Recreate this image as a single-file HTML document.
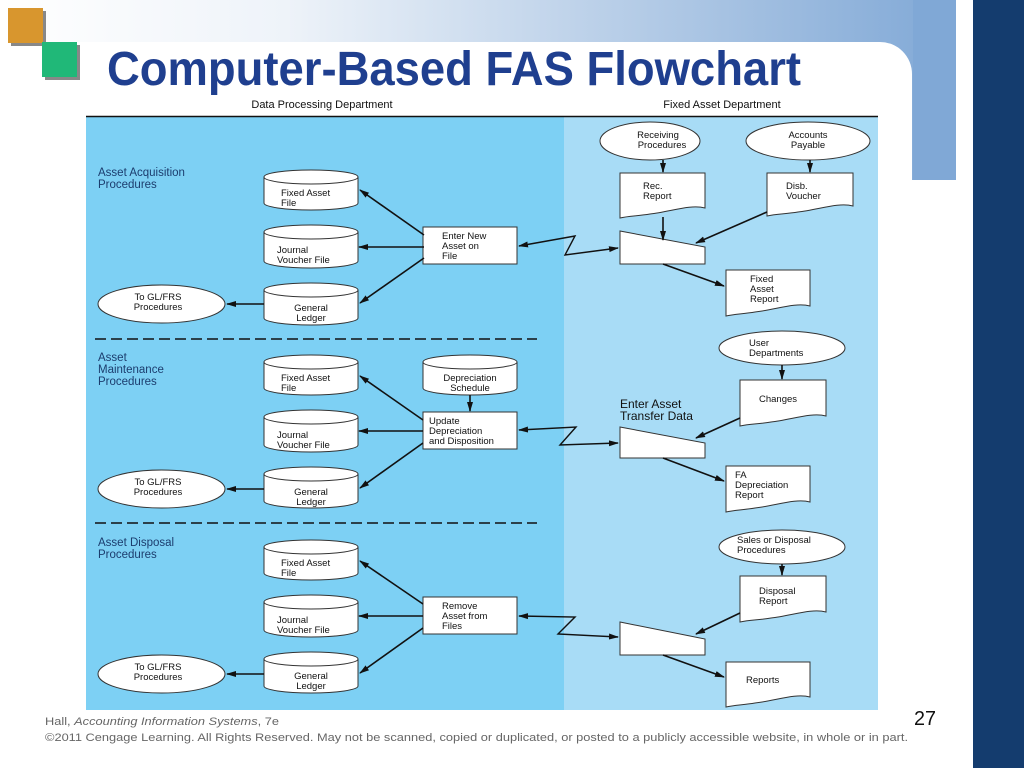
<!DOCTYPE html>
<html><head><meta charset="utf-8"><style>
html,body{margin:0;padding:0;background:#fff;}
svg{display:block;}
text{font-family:"Liberation Sans",Arial,sans-serif;}
.n{font-size:9.5px;fill:#111;}
.s{font-size:11.5px;fill:#1c3d6e;}
.sh{fill:#fff;stroke:#333;stroke-width:1;}
.ln{stroke:#111;stroke-width:1.6;fill:none;marker-end:url(#ah);}
.zz{stroke:#111;stroke-width:1.4;fill:none;marker-end:url(#ah);marker-start:url(#as);}
</style></head><body>
<svg width="1024" height="768" viewBox="0 0 1024 768" xmlns="http://www.w3.org/2000/svg">
<defs>
<linearGradient id="g" x1="0" x2="1" y1="0" y2="0">
<stop offset="0" stop-color="#ffffff"/><stop offset="0.3" stop-color="#eef3f9"/><stop offset="1" stop-color="#80a8d6"/>
</linearGradient>
<marker id="ah" markerWidth="10" markerHeight="8" refX="9" refY="4" orient="auto" markerUnits="userSpaceOnUse"><path d="M0,1 L10,4 L0,7 Z" fill="#111"/></marker>
<marker id="as" markerWidth="10" markerHeight="8" refX="1" refY="4" orient="auto" markerUnits="userSpaceOnUse"><path d="M10,1 L0,4 L10,7 Z" fill="#111"/></marker>
</defs>
<rect x="0" y="0" width="956" height="180" fill="url(#g)"/>
<rect x="913" y="0" width="43" height="180" fill="#80a8d6"/>
<path d="M0,42 H880 A32,32 0 0 1 912,74 V768 H0 Z" fill="#fff"/>
<rect x="973" y="0" width="51" height="768" fill="#143c6e"/>
<rect x="11" y="11" width="35" height="35" fill="#888"/>
<rect x="8" y="8" width="35" height="35" fill="#d8962e"/>
<rect x="45" y="45" width="35" height="35" fill="#888"/>
<rect x="42" y="42" width="35" height="35" fill="#20b878"/>
<text x="107" y="85" font-size="48" font-weight="bold" fill="#1f3f8f" textLength="694" lengthAdjust="spacingAndGlyphs">Computer-Based FAS Flowchart</text>
<text x="322" y="108" font-size="11" text-anchor="middle" fill="#111">Data Processing Department</text>
<text x="722" y="108" font-size="11" text-anchor="middle" fill="#111">Fixed Asset Department</text>
<rect x="86" y="116" width="478" height="594" fill="#7dd0f4"/>
<rect x="564" y="116" width="314" height="594" fill="#a8dcf6"/>
<line x1="86" y1="116.5" x2="878" y2="116.5" stroke="#111" stroke-width="1.5"/>
<line x1="95" y1="339" x2="537" y2="339" stroke="#111" stroke-width="1.5" stroke-dasharray="11,5"/>
<line x1="95" y1="523" x2="537" y2="523" stroke="#111" stroke-width="1.5" stroke-dasharray="11,5"/>

<text class="s"><tspan x="98" y="176">Asset Acquisition</tspan><tspan x="98" y="188">Procedures</tspan></text>
<text class="s"><tspan x="98" y="361">Asset</tspan><tspan x="98" y="373">Maintenance</tspan><tspan x="98" y="385">Procedures</tspan></text>
<text class="s"><tspan x="98" y="546">Asset Disposal</tspan><tspan x="98" y="558">Procedures</tspan></text>

<g class="sh">
<path d="M264,177 A47,7 0 0 1 358,177 V203 A47,7 0 0 1 264,203 Z"/><path d="M264,177 A47,7 0 0 0 358,177" fill="none"/>
<path d="M264,232 A47,7 0 0 1 358,232 V261 A47,7 0 0 1 264,261 Z"/><path d="M264,232 A47,7 0 0 0 358,232" fill="none"/>
<path d="M264,290 A47,7 0 0 1 358,290 V318 A47,7 0 0 1 264,318 Z"/><path d="M264,290 A47,7 0 0 0 358,290" fill="none"/>
<path d="M264,362 A47,7 0 0 1 358,362 V388 A47,7 0 0 1 264,388 Z"/><path d="M264,362 A47,7 0 0 0 358,362" fill="none"/>
<path d="M264,417 A47,7 0 0 1 358,417 V445 A47,7 0 0 1 264,445 Z"/><path d="M264,417 A47,7 0 0 0 358,417" fill="none"/>
<path d="M264,474 A47,7 0 0 1 358,474 V501 A47,7 0 0 1 264,501 Z"/><path d="M264,474 A47,7 0 0 0 358,474" fill="none"/>
<path d="M423,362 A47,7 0 0 1 517,362 V388 A47,7 0 0 1 423,388 Z"/><path d="M423,362 A47,7 0 0 0 517,362" fill="none"/>
<path d="M264,547 A47,7 0 0 1 358,547 V573 A47,7 0 0 1 264,573 Z"/><path d="M264,547 A47,7 0 0 0 358,547" fill="none"/>
<path d="M264,602 A47,7 0 0 1 358,602 V630 A47,7 0 0 1 264,630 Z"/><path d="M264,602 A47,7 0 0 0 358,602" fill="none"/>
<path d="M264,659 A47,7 0 0 1 358,659 V686 A47,7 0 0 1 264,686 Z"/><path d="M264,659 A47,7 0 0 0 358,659" fill="none"/>
<ellipse cx="161.5" cy="304" rx="63.5" ry="19"/>
<ellipse cx="161.5" cy="489" rx="63.5" ry="19"/>
<ellipse cx="161.5" cy="674" rx="63.5" ry="19"/>
<ellipse cx="650" cy="141" rx="50" ry="19"/>
<ellipse cx="808" cy="141" rx="62" ry="19"/>
<ellipse cx="782" cy="348" rx="63" ry="17"/>
<ellipse cx="782" cy="547" rx="63" ry="17"/>
<rect x="423" y="227" width="94" height="37"/>
<rect x="423" y="412" width="94" height="37"/>
<rect x="423" y="597" width="94" height="37"/>
<polygon points="620,231 705,247 705,264 620,264"/>
<polygon points="620,427 705,443 705,458 620,458"/>
<polygon points="620,622 705,639 705,655 620,655"/>
<path d="M620,173 H705 V208 C690,204 670,212 650,214 C638,216 628,216 620,218 Z"/>
<path d="M767,173 H853 V206 C838,202 818,210 798,212 C786,214 776,214 767,216 Z"/>
<path d="M726,270 H810 V306 C795,302 775,310 755,312 C743,314 734,314 726,316 Z"/>
<path d="M740,380 H826 V416 C811,412 791,420 771,422 C759,424 749,424 740,426 Z"/>
<path d="M726,466 H810 V502 C795,498 775,506 755,508 C743,510 734,510 726,512 Z"/>
<path d="M740,576 H826 V612 C811,608 791,616 771,618 C759,620 749,620 740,622 Z"/>
<path d="M726,662 H810 V697 C795,693 775,701 755,703 C743,705 734,705 726,707 Z"/>
</g>

<text class="n"><tspan x="281" y="196">Fixed Asset</tspan><tspan x="281" y="206">File</tspan></text>
<text class="n"><tspan x="277" y="253">Journal</tspan><tspan x="277" y="263">Voucher File</tspan></text>
<text class="n" text-anchor="middle"><tspan x="311" y="311">General</tspan><tspan x="311" y="321">Ledger</tspan></text>
<text class="n"><tspan x="281" y="381">Fixed Asset</tspan><tspan x="281" y="391">File</tspan></text>
<text class="n"><tspan x="277" y="438">Journal</tspan><tspan x="277" y="448">Voucher File</tspan></text>
<text class="n" text-anchor="middle"><tspan x="311" y="495">General</tspan><tspan x="311" y="505">Ledger</tspan></text>
<text class="n" text-anchor="middle"><tspan x="470" y="381">Depreciation</tspan><tspan x="470" y="391">Schedule</tspan></text>
<text class="n"><tspan x="281" y="566">Fixed Asset</tspan><tspan x="281" y="576">File</tspan></text>
<text class="n"><tspan x="277" y="623">Journal</tspan><tspan x="277" y="633">Voucher File</tspan></text>
<text class="n" text-anchor="middle"><tspan x="311" y="679">General</tspan><tspan x="311" y="689">Ledger</tspan></text>
<text class="n" text-anchor="middle"><tspan x="158" y="300">To GL/FRS</tspan><tspan x="158" y="310">Procedures</tspan></text>
<text class="n" text-anchor="middle"><tspan x="158" y="485">To GL/FRS</tspan><tspan x="158" y="495">Procedures</tspan></text>
<text class="n" text-anchor="middle"><tspan x="158" y="670">To GL/FRS</tspan><tspan x="158" y="680">Procedures</tspan></text>
<text class="n"><tspan x="442" y="239">Enter New</tspan><tspan x="442" y="249">Asset on</tspan><tspan x="442" y="259">File</tspan></text>
<text class="n"><tspan x="429" y="424">Update</tspan><tspan x="429" y="434">Depreciation</tspan><tspan x="429" y="444">and Disposition</tspan></text>
<text class="n"><tspan x="442" y="609">Remove</tspan><tspan x="442" y="619">Asset from</tspan><tspan x="442" y="629">Files</tspan></text>
<text class="n" text-anchor="middle"><tspan x="658" y="138">Receiving</tspan><tspan x="662" y="148">Procedures</tspan></text>
<text class="n" text-anchor="middle"><tspan x="808" y="138">Accounts</tspan><tspan x="808" y="148">Payable</tspan></text>
<text class="n"><tspan x="643" y="189">Rec.</tspan><tspan x="643" y="199">Report</tspan></text>
<text class="n"><tspan x="786" y="189">Disb.</tspan><tspan x="786" y="199">Voucher</tspan></text>
<text class="n"><tspan x="750" y="282">Fixed</tspan><tspan x="750" y="292">Asset</tspan><tspan x="750" y="302">Report</tspan></text>
<text class="n"><tspan x="749" y="346">User</tspan><tspan x="749" y="356">Departments</tspan></text>
<text class="n"><tspan x="759" y="402">Changes</tspan></text>
<text x="620" y="408" font-size="12" fill="#111"><tspan x="620" y="408">Enter Asset</tspan><tspan x="620" y="420">Transfer Data</tspan></text>
<text class="n"><tspan x="735" y="478">FA</tspan><tspan x="735" y="488">Depreciation</tspan><tspan x="735" y="498">Report</tspan></text>
<text class="n"><tspan x="737" y="543">Sales or Disposal</tspan><tspan x="737" y="553">Procedures</tspan></text>
<text class="n"><tspan x="759" y="594">Disposal</tspan><tspan x="759" y="604">Report</tspan></text>
<text class="n"><tspan x="746" y="683">Reports</tspan></text>

<line class="ln" x1="424" y1="235" x2="360" y2="190"/>
<line class="ln" x1="424" y1="247" x2="359" y2="247"/>
<line class="ln" x1="424" y1="258" x2="360" y2="303"/>
<line class="ln" x1="264" y1="304" x2="227" y2="304"/>
<polyline class="zz" points="519,246 575,236 565,255 618,248"/>
<line class="ln" x1="663" y1="160" x2="663" y2="172"/>
<line class="ln" x1="810" y1="160" x2="810" y2="172"/>
<line class="ln" x1="663" y1="217" x2="663" y2="240"/>
<line class="ln" x1="767" y1="212" x2="696" y2="243"/>
<line class="ln" x1="663" y1="264" x2="724" y2="286"/>
<line class="ln" x1="423" y1="420" x2="360" y2="376"/>
<line class="ln" x1="423" y1="431" x2="359" y2="431"/>
<line class="ln" x1="423" y1="443" x2="360" y2="488"/>
<line class="ln" x1="264" y1="489" x2="227" y2="489"/>
<line class="ln" x1="470" y1="395" x2="470" y2="411"/>
<polyline class="zz" points="519,430 576,427 560,445 618,443"/>
<line class="ln" x1="782" y1="365" x2="782" y2="379"/>
<line class="ln" x1="740" y1="418" x2="696" y2="438"/>
<line class="ln" x1="663" y1="458" x2="724" y2="481"/>
<line class="ln" x1="423" y1="604" x2="360" y2="561"/>
<line class="ln" x1="423" y1="616" x2="359" y2="616"/>
<line class="ln" x1="423" y1="628" x2="360" y2="673"/>
<line class="ln" x1="264" y1="674" x2="227" y2="674"/>
<polyline class="zz" points="519,616 575,617 558,634 618,637"/>
<line class="ln" x1="782" y1="564" x2="782" y2="575"/>
<line class="ln" x1="740" y1="613" x2="696" y2="634"/>
<line class="ln" x1="663" y1="655" x2="724" y2="677"/>

<text x="45" y="725" font-size="11" fill="#666" textLength="234" lengthAdjust="spacingAndGlyphs">Hall, <tspan font-style="italic">Accounting Information Systems</tspan>, 7e</text>
<text x="45" y="741" font-size="11" fill="#666" textLength="863" lengthAdjust="spacingAndGlyphs">©2011 Cengage Learning. All Rights Reserved. May not be scanned, copied or duplicated, or posted to a publicly accessible website, in whole or in part.</text>
<text x="914" y="725" font-size="20" fill="#111" textLength="22" lengthAdjust="spacingAndGlyphs">27</text>
</svg>
</body></html>
